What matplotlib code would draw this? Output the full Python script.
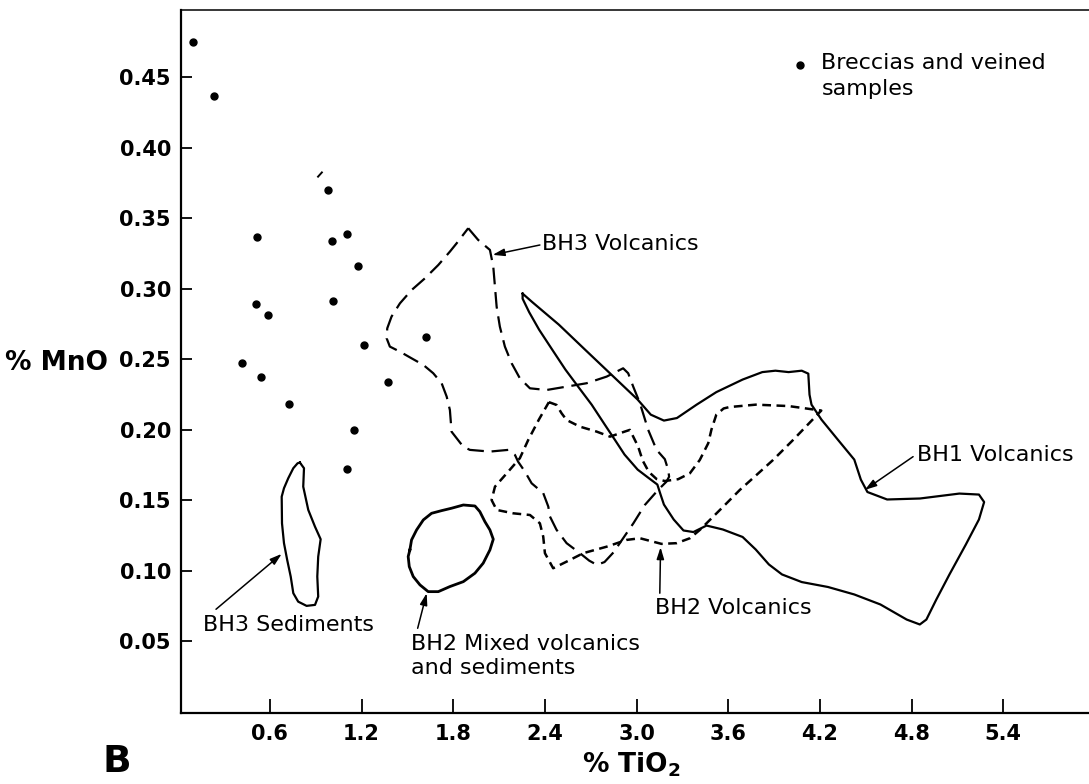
import numpy as np
import matplotlib
matplotlib.use("Agg")
import matplotlib.pyplot as plt

plt.rcParams['font.family'] = 'DejaVu Sans'

"Axis ticks"
x_ticks = [0.6, 1.2, 1.8, 2.4, 3.0, 3.6, 4.2, 4.8, 5.4]
y_ticks = [0.05, 0.10, 0.15, 0.20, 0.25, 0.30, 0.35, 0.40, 0.45]

"Breccias and veined samples (TiO2, MnO)"
breccia_tio2 = [0.094, 0.234, 0.517, 0.509, 0.589, 0.419, 0.541, 0.726, 0.978,
                1.006, 1.104, 1.176, 1.014, 1.215, 1.374, 1.152, 1.102, 1.621]
breccia_mno = [0.475, 0.437, 0.337, 0.289, 0.281, 0.247, 0.237, 0.218, 0.370,
               0.334, 0.339, 0.316, 0.291, 0.260, 0.234, 0.200, 0.172, 0.266]

"Field outlines (TiO2, MnO)"
bh1_volcanics = [(2.254, 0.2965), (2.318, 0.2904), (2.491, 0.2745), (2.663, 0.2567), (2.835, 0.239),
                 (3.007, 0.2213), (3.093, 0.2106), (3.179, 0.2064), (3.264, 0.2082), (3.393, 0.2177),
                 (3.522, 0.2266), (3.694, 0.2355), (3.823, 0.2408), (3.909, 0.2418), (3.995, 0.2408),
                 (4.081, 0.2418), (4.124, 0.2397), (4.132, 0.2248), (4.145, 0.2177), (4.21, 0.2071),
                 (4.317, 0.1929), (4.425, 0.1787), (4.468, 0.1645), (4.511, 0.1557), (4.64, 0.1504),
                 (4.855, 0.1511), (5.113, 0.1546), (5.241, 0.1539), (5.275, 0.1486), (5.241, 0.1362),
                 (5.155, 0.1184), (5.048, 0.0972), (4.962, 0.0794), (4.897, 0.0652), (4.854, 0.0617),
                 (4.768, 0.0652), (4.596, 0.0759), (4.425, 0.083), (4.253, 0.0883), (4.081, 0.0918),
                 (3.952, 0.0972), (3.866, 0.1043), (3.78, 0.1149), (3.694, 0.1238), (3.565, 0.1291),
                 (3.458, 0.1319), (3.372, 0.1273), (3.307, 0.1284), (3.243, 0.1362), (3.179, 0.1468),
                 (3.157, 0.1539), (3.136, 0.161), (3.071, 0.1663), (3.007, 0.1716), (2.921, 0.1823),
                 (2.857, 0.1929), (2.792, 0.2035), (2.706, 0.2177), (2.62, 0.2301), (2.534, 0.2426),
                 (2.448, 0.2567), (2.362, 0.2709), (2.297, 0.2833), (2.254, 0.2929), (2.254, 0.2965)]

bh3_volcanics = [(1.898, 0.3429), (1.963, 0.3346), (2.040, 0.3275), (2.062, 0.3156), (2.073, 0.3014),
                 (2.084, 0.2872), (2.105, 0.2731), (2.138, 0.2589), (2.182, 0.2471), (2.236, 0.2364),
                 (2.302, 0.2293), (2.411, 0.2281), (2.542, 0.2305), (2.673, 0.2329), (2.804, 0.2376),
                 (2.912, 0.2435), (2.945, 0.240), (2.978, 0.2305), (3.022, 0.2187), (3.076, 0.1998),
                 (3.131, 0.1856), (3.185, 0.1790), (3.207, 0.1714), (3.213, 0.1666), (3.196, 0.1631),
                 (3.141, 0.1572), (3.054, 0.1465), (2.979, 0.1335), (2.912, 0.1229), (2.85, 0.113),
                 (2.79, 0.106), (2.74, 0.104), (2.69, 0.107), (2.629, 0.1123), (2.542, 0.1194),
                 (2.476, 0.1289), (2.433, 0.1383), (2.422, 0.1454), (2.389, 0.1549), (2.313, 0.1619),
                 (2.269, 0.1702), (2.224, 0.1773), (2.204, 0.182), (2.16, 0.1856), (2.04, 0.1844),
                 (1.909, 0.1856), (1.865, 0.1879), (1.789, 0.1985), (1.778, 0.2139), (1.757, 0.2234),
                 (1.724, 0.2329), (1.669, 0.240), (1.604, 0.2459), (1.527, 0.2506), (1.451, 0.2553),
                 (1.385, 0.2589), (1.364, 0.2648), (1.368, 0.2719), (1.396, 0.2802), (1.451, 0.2896),
                 (1.527, 0.299), (1.614, 0.3073), (1.702, 0.3168), (1.778, 0.3263), (1.822, 0.3322),
                 (1.898, 0.3429)]

bh2_volcanics = [(2.426, 0.2195), (2.476, 0.2175), (2.509, 0.2116), (2.542, 0.2068), (2.629, 0.2021),
                 (2.738, 0.1986), (2.826, 0.195), (2.92, 0.1985), (2.956, 0.1998), (2.978, 0.195),
                 (3.01, 0.188), (3.04, 0.178), (3.08, 0.170), (3.13, 0.165), (3.185, 0.1635),
                 (3.272, 0.1648), (3.349, 0.169), (3.414, 0.1785), (3.469, 0.1903), (3.49, 0.200),
                 (3.522, 0.2106), (3.57, 0.215), (3.608, 0.216), (3.78, 0.2177), (3.995, 0.2167),
                 (4.209, 0.2135), (4.025, 0.1927), (3.894, 0.1785), (3.785, 0.1678), (3.676, 0.1572),
                 (3.567, 0.1453), (3.48, 0.1359), (3.414, 0.1288), (3.349, 0.1229), (3.262, 0.1194),
                 (3.163, 0.1189), (3.022, 0.1229), (2.934, 0.1217), (2.804, 0.1169), (2.651, 0.1123),
                 (2.542, 0.1063), (2.454, 0.1016), (2.40, 0.1123), (2.389, 0.124), (2.367, 0.1335),
                 (2.302, 0.1394), (2.192, 0.1406), (2.084, 0.143), (2.051, 0.150), (2.073, 0.1595),
                 (2.16, 0.1702), (2.236, 0.1797), (2.291, 0.1927), (2.36, 0.207), (2.426, 0.2195)]

bh2_mixed = [(1.516, 0.1146), (1.527, 0.1217), (1.560, 0.1288), (1.604, 0.1359), (1.658, 0.1406),
             (1.724, 0.1425), (1.789, 0.1442), (1.866, 0.1465), (1.942, 0.1458), (1.974, 0.1418),
             (2.007, 0.1347), (2.040, 0.1288), (2.062, 0.1222), (2.040, 0.1146), (1.996, 0.1052),
             (1.942, 0.0981), (1.866, 0.0921), (1.778, 0.0886), (1.702, 0.085), (1.636, 0.085),
             (1.582, 0.0898), (1.538, 0.0957), (1.512, 0.1028), (1.505, 0.1099), (1.516, 0.1146)]

bh3_sediments = [(0.796, 0.1766), (0.823, 0.1726), (0.818, 0.1595), (0.851, 0.143), (0.895, 0.1311),
                 (0.932, 0.1222), (0.916, 0.1098), (0.910, 0.0957), (0.916, 0.0815), (0.895, 0.0756),
                 (0.840, 0.0749), (0.785, 0.0779), (0.753, 0.0839), (0.736, 0.0957), (0.713, 0.1075),
                 (0.692, 0.1194), (0.679, 0.1335), (0.677, 0.1524), (0.692, 0.1584), (0.720, 0.1655),
                 (0.753, 0.1726), (0.781, 0.1761), (0.796, 0.1766)]

"Small stray stroke near the dots"
stroke_tio2 = [0.915, 0.940]
stroke_mno = [0.3795, 0.3825]

"Labels: text, text position, arrow tail, arrow head"
labels = ['BH3 Volcanics', 'BH1 Volcanics', 'BH2 Volcanics', 'BH3 Sediments',
          'BH2 Mixed volcanics\nand sediments']
label_pos = [(2.38, 0.3317), (4.836, 0.182), (3.12, 0.0734), (0.162, 0.0614), (1.524, 0.0548)]
arrow_tail = [(2.367, 0.331), (4.81, 0.1808), (3.152, 0.0839), (0.247, 0.0725), (1.567, 0.059)]
arrow_head = [(2.058, 0.324), (4.494, 0.1572), (3.157, 0.1165), (0.677, 0.1118), (1.626, 0.0839)]

"Setting up the plot"
fig = plt.figure(figsize=(10.89, 7.84), dpi=100)
ax = fig.add_axes([0.1659, 0.0906, 0.844, 0.8967])
ax.set_xlim(0.0157, 6.032)
ax.set_ylim(-0.0011, 0.4978)

lw = 1.6
ax.plot(*np.array(bh1_volcanics).T, color='k', lw=lw, solid_joinstyle='round')
ax.plot(*np.array(bh2_mixed).T, color='k', lw=lw + 0.4, solid_joinstyle='round')
ax.plot(*np.array(bh3_sediments).T, color='k', lw=lw, solid_joinstyle='round')
ax.plot(*np.array(bh3_volcanics).T, color='k', lw=lw, ls=(0, (7.5, 3.5)))
ax.plot(*np.array(bh2_volcanics).T, color='k', lw=lw + 0.2, ls=(0, (3.5, 2.2)))
ax.plot(stroke_tio2, stroke_mno, color='k', lw=1.4)

ax.plot(breccia_tio2, breccia_mno, 'o', color='k', ms=5)

for txt, pos, tail, head in zip(labels, label_pos, arrow_tail, arrow_head):
    va = 'top' if '\n' in txt else 'center'
    ax.text(pos[0], pos[1], txt, fontsize=16, va=va, ha='left', linespacing=1.25)
    ax.annotate('', xy=head, xytext=tail,
                arrowprops=dict(arrowstyle='-|>,head_length=0.7,head_width=0.22',
                                color='k', lw=1.1, shrinkA=0, shrinkB=0))

"Legend entry"
ax.plot([4.069], [0.4588], 'o', color='k', ms=5)
ax.text(4.21, 0.4672, 'Breccias and veined\nsamples', fontsize=16, va='top',
        ha='left', linespacing=1.38)

ax.set_xticks(x_ticks)
ax.set_xticklabels(['%.1f' % v for v in x_ticks])
ax.set_yticks(y_ticks)
ax.set_yticklabels(['%.2f' % v for v in y_ticks])
ax.tick_params(axis='x', direction='in', length=10, width=1.3, pad=8)
ax.tick_params(axis='y', direction='in', length=8, width=1.3, pad=7)
for lab in ax.get_xticklabels() + ax.get_yticklabels():
    lab.set_fontweight('bold')
    lab.set_fontsize(15)
for s in ['left', 'bottom']:
    ax.spines[s].set_linewidth(1.6)
ax.spines['top'].set_linewidth(1.1)
ax.spines['right'].set_visible(False)

fig.text(0.052, 0.537, '% MnO', fontsize=19, fontweight='bold', ha='center', va='center')
fig.text(0.58, 0.025, r'% TiO$_\mathbf{2}$', fontsize=19, fontweight='bold', ha='center', va='center')
fig.text(0.094, 0.015, 'B', fontsize=27, fontweight='bold', ha='left', va='baseline')

plt.savefig('out.png', dpi=100)
